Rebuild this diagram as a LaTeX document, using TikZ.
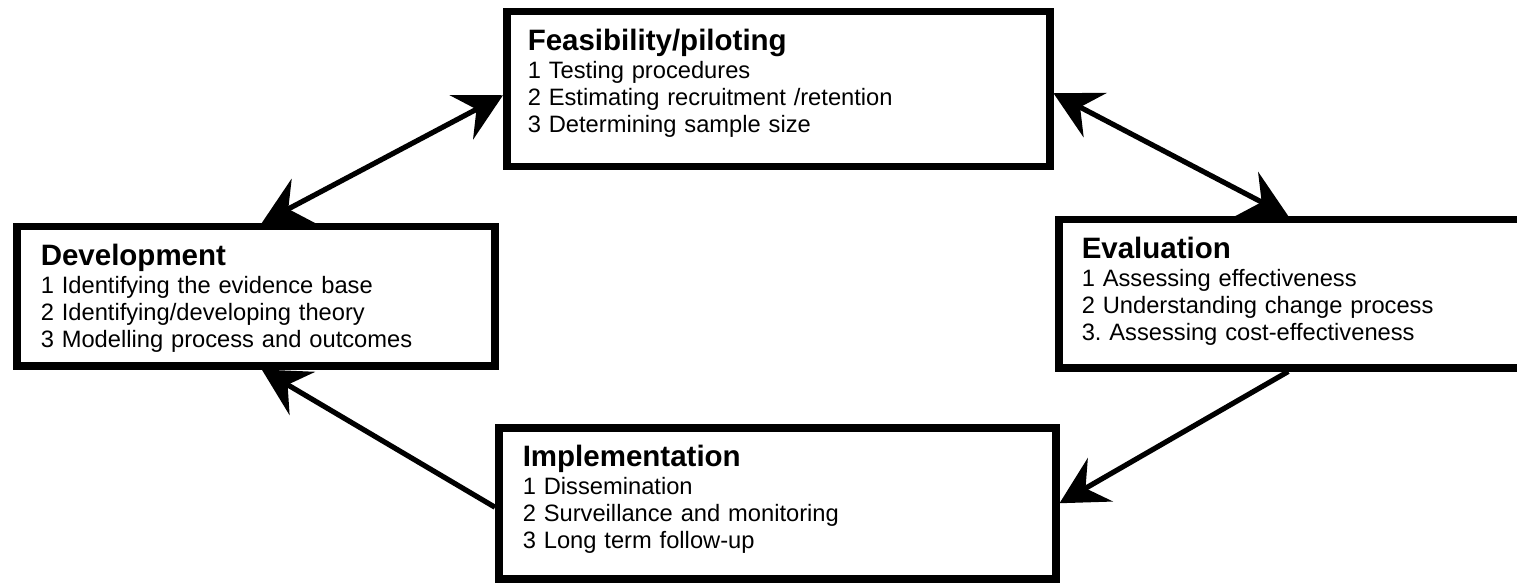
\documentclass[tikz,border=0pt]{standalone}
\usepackage{fontspec}
\setmainfont{Liberation Sans}
\usetikzlibrary{arrows.meta}
\frenchspacing

\newcommand{\stagetitle}[1]{{\bfseries\fontsize{14.75pt}{13.5pt}\selectfont #1}\\[0.5pt]}

\tikzset{
  stage/.style args={#1/#2/#3}{draw, line width=3.75pt, anchor=north west, align=left,
    inner ysep=0pt, inner xsep=#1, text width=#2, text height=19.5pt, text depth=#3,
    font=\fontsize{11.85pt}{13.5pt}\selectfont},
  link/.style={line width=2.6pt}
}

\begin{document}
\begin{tikzpicture}[x=0.5pt, y=0.5pt, >={Stealth[length=23.5pt, width=25pt, inset=8.5pt]}]
    \useasboundingbox (0,0) rectangle (1517,585);

    % the four stages
    \node[stage=10.5pt/250.5pt/58pt] (feas) at (503,577) {\stagetitle{Feasibility/piloting}
        1 Testing procedures\\ 2 Estimating recruitment /retention\\ 3 Determining sample size};
    \node[stage=12pt/215pt/50pt] (dev) at (13,362) {\stagetitle{Development}
        1 Identifying the evidence base\\ 2 Identifying/developing theory\\ 3 Modelling process and outcomes};
    \node[stage=11.5pt/214.5pt/54.5pt] (eval) at (1055,369) {\stagetitle{Evaluation}
        1 Assessing effectiveness\\ 2 Understanding change process\\ 3. Assessing cost-effectiveness};
    \node[stage=12pt/254.5pt/56pt] (impl) at (495,161) {\stagetitle{Implementation}
        1 Dissemination\\ 2 Surveillance and monitoring\\ 3 Long term follow-up};

    % links
    \draw[link, <->] ([xshift=3pt]dev.north) -- ([yshift=-3pt]feas.west);
    \draw[link, <->] ([yshift=-2pt]feas.east) -- ([xshift=-4pt]eval.north);
    \draw[link, ->] ([xshift=-4pt]eval.south) -- (impl.east);
    \draw[link, ->] ([yshift=-2pt]impl.west) -- ([xshift=3pt]dev.south);
\end{tikzpicture}
\end{document}
